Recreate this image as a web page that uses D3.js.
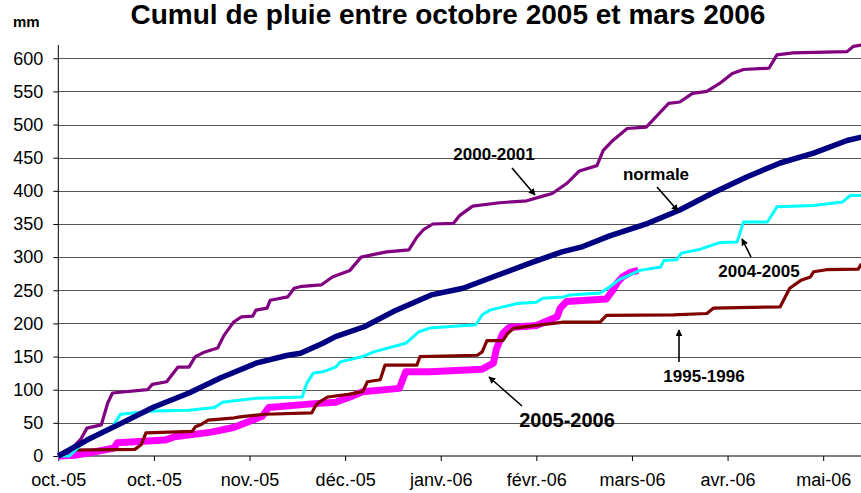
<!DOCTYPE html>
<html>
<head>
<meta charset="utf-8">
<script src="https://cdn.jsdelivr.net/npm/d3@7"></script>
<style>
  body { margin: 0; background: #fff; }
  text { font-family: "Liberation Sans", Arial, sans-serif; }
</style>
</head>
<body>
<div id="chart"></div>
<script>
// axis labels (a tick every 30 days from 1 Oct 2005)
var tickDays = [0, 30, 60, 90, 120, 150, 180, 210, 240];
var tickLabels = ["oct.-05", "oct.-05", "nov.-05", "déc.-05", "janv.-06", "févr.-06", "mars-06", "avr.-06", "mai-06"];
var yTicks = [0, 50, 100, 150, 200, 250, 300, 350, 400, 450, 500, 550, 600];

// cumulated rain, [day since 1 oct, mm]
var pluie20052006 = [[0,0],[5,1],[9,4],[17.5,12],[18.5,20],[33.5,24],[36.5,29],[48,36],[55,43],[64,60],[66,73],[80.5,79],[87,81],[91.5,89],[95.5,97],[107,102],[109,127],[116.5,127],[133,131],[136.5,140],[137.5,162],[139.5,185],[141.5,194],[150,197],[156.5,210],[157.5,223],[159.5,233],[172,237],[174,250],[175.5,262],[177,270],[179.5,277],[182,280]];
var pluie19951996 = [[0,0],[3,9],[24,10],[26,17],[27.5,35],[42,37],[43,44],[45,48],[47,54],[54.5,57],[57,59],[65,63],[79.5,65],[80.5,74],[81.5,80],[84.5,89],[91,93],[95.5,97],[97,112],[101,115],[102.5,137],[112.5,137],[113.5,150],[131.5,152],[133,157],[134.5,174],[139.5,174],[141,185],[143,193],[150,197],[158.5,202],[170,202],[172,212],[193,213],[203.5,215],[205.5,223],[226.5,225],[229.5,253],[233,265],[236,270],[237,278],[241,281],[251,282],[252,290]];
var pluie20042005 = [[0,0],[3.5,0],[8,21],[12.5,34],[17,44],[19.5,63],[26,66],[30,68],[41,69],[49,73],[51.5,81],[62,87],[76.5,89],[78,110],[80,125],[83,127],[87,134],[88.5,142],[95.5,150],[99,157],[109,170],[113,187],[116.5,193],[131,198],[133,213],[135.5,220],[139.5,225],[144,230],[150,232],[152,238],[158.5,240],[160.5,243],[170,246],[173,255],[176,266],[182.5,280],[189,285],[190,295],[194,296],[195.5,306],[201.5,312],[207.5,322],[213,323],[215,353],[222.5,353],[225.5,376],[237,378],[246,383],[248.5,393],[252,393]];
var pluie20002001 = [[0,0],[3,5],[7,25],[9,42],[13.5,47],[15.5,80],[17,95],[28,100],[29.5,108],[34,112],[37.5,134],[41,134],[43,150],[46,157],[50,163],[52,182],[55,202],[57.5,210],[61,211],[62,220],[65.5,223],[66.5,235],[72,240],[74,253],[76.5,256],[82.5,258],[86,270],[91.5,280],[95,300],[103,308],[110,311],[112.5,330],[114.5,341],[117.5,350],[124,351],[126,363],[130,377],[138.5,382],[147,385],[152,392],[155,396],[159.5,411],[163.5,430],[169,438],[171,461],[174,476],[178.5,494],[184.5,496],[188,514],[191.5,532],[195,534],[199,547],[203.5,550],[207.5,562],[211.5,577],[215,583],[223,585],[225.5,605],[230.5,608],[247.5,610],[249.5,618],[252,620]];
var normale = [[0,0],[9,24],[20,50],[30,74],[41,95],[51,118],[62,140],[72,152],[76,155],[83,170],[87,180],[96,195],[106,220],[117,243],[127,253],[138,273],[148,291],[158,308],[164,315],[173,332],[185,351],[195,371],[205,396],[216,421],[226.5,442],[237,457],[247.5,476],[252,481]];

var series = [
  {name: "2005-2006", values: pluie20052006, color: "#FF00FF", width: 7},
  {name: "1995-1996", values: pluie19951996, color: "#800000", width: 3.2},
  {name: "2004-2005", values: pluie20042005, color: "#00FFFF", width: 3},
  {name: "2000-2001", values: pluie20002001, color: "#800080", width: 3.2},
  {name: "normale", values: normale, color: "#000080", width: 5.5}
];

// annotations: label position and arrow (tail -> head)
var notes = [
  {text: "2000-2001", x: 494, y: 160, size: 17, arrow: [[512,168],[535,195]]},
  {text: "normale", x: 656, y: 180, size: 17, arrow: [[657,187],[678,211]]},
  {text: "2004-2005", x: 759, y: 277, size: 17, arrow: [[751,257],[742,239]]},
  {text: "1995-1996", x: 704, y: 382, size: 17, arrow: [[679,362],[679,330]]},
  {text: "2005-2006", x: 567, y: 427, size: 20, arrow: [[522,406],[489,377]]}
];

var width = 861, height = 493;

var svg = d3.select("#chart")
  .append("svg")
  .attr("width", width)
  .attr("height", height);

svg.append("defs").append("marker")
  .attr("id", "head")
  .attr("viewBox", "0 0 10 10")
  .attr("refX", 9)
  .attr("refY", 5)
  .attr("markerWidth", 7)
  .attr("markerHeight", 7)
  .attr("markerUnits", "userSpaceOnUse")
  .attr("orient", "auto")
  .append("path")
  .attr("d", "M0,0 L10,5 L0,10 z")
  .attr("fill", "#000");

var x = d3.scaleLinear().domain([0, 252]).range([58.3, 58.3 + 3.187 * 252]);
var y = d3.scaleLinear().domain([0, 620]).range([456, 45]);

// gridlines
svg.append("g")
  .selectAll("line")
  .data(yTicks.filter(function(d){ return d > 0; }))
  .enter().append("line")
  .attr("x1", x(0))
  .attr("x2", width)
  .attr("y1", function(d){ return Math.round(y(d)) + 0.5; })
  .attr("y2", function(d){ return Math.round(y(d)) + 0.5; })
  .attr("stroke", "#555")
  .attr("stroke-width", 1.2);

// y axis
var yAxis = svg.append("g")
  .attr("transform", "translate(" + x(0) + ",0)")
  .call(d3.axisLeft(y).tickValues(yTicks).tickSize(5).tickPadding(10));
yAxis.select(".domain").attr("d", "M0," + y(620) + "V" + y(0)).attr("stroke", "#000");
yAxis.selectAll("text").style("font-size", "18px").attr("fill", "#000");

// x axis
var xAxis = svg.append("g")
  .attr("transform", "translate(0," + y(0) + ")")
  .call(d3.axisBottom(x).tickValues(tickDays).tickSize(5).tickPadding(12)
    .tickFormat(function(d, i){ return tickLabels[i]; }));
xAxis.select(".domain").attr("d", "M" + x(0) + ",0H" + width).attr("stroke", "#000");
xAxis.selectAll("text").style("font-size", "18px").attr("fill", "#000");

// curves
var line = d3.line()
  .x(function(d){ return x(d[0]); })
  .y(function(d){ return y(d[1]); });

svg.append("g")
  .selectAll("path")
  .data(series)
  .enter().append("path")
  .attr("d", function(d){ return line(d.values); })
  .attr("fill", "none")
  .attr("stroke", function(d){ return d.color; })
  .attr("stroke-width", function(d){ return d.width; })
  .attr("stroke-linejoin", "round");

// annotations
var g = svg.append("g");
notes.forEach(function(n){
  g.append("text")
    .attr("x", n.x)
    .attr("y", n.y)
    .attr("text-anchor", "middle")
    .style("font-size", n.size + "px")
    .style("font-weight", "bold")
    .text(n.text);
  g.append("line")
    .attr("x1", n.arrow[0][0]).attr("y1", n.arrow[0][1])
    .attr("x2", n.arrow[1][0]).attr("y2", n.arrow[1][1])
    .attr("stroke", "#000")
    .attr("stroke-width", 1.6)
    .attr("marker-end", "url(#head)");
});

// titles
svg.append("text")
  .attr("x", 448)
  .attr("y", 24)
  .attr("text-anchor", "middle")
  .style("font-size", "28px")
  .style("font-weight", "bold")
  .text("Cumul de pluie entre octobre 2005 et mars 2006");

svg.append("text")
  .attr("x", 13)
  .attr("y", 27)
  .style("font-size", "15px")
  .style("font-weight", "bold")
  .text("mm");
</script>
</body>
</html>
